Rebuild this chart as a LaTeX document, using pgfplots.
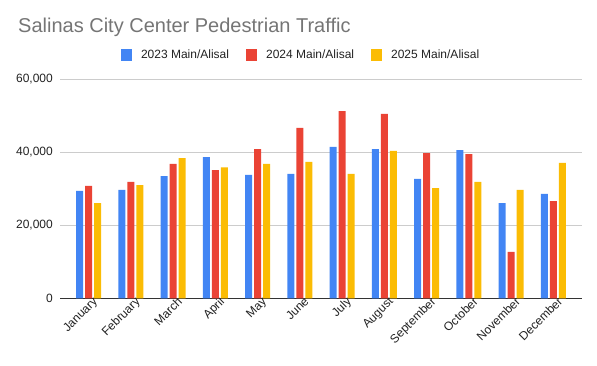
\documentclass[border=0pt]{standalone}
\usepackage{fontspec}
\setmainfont{Liberation Sans}
\usepackage{pgfplots}
\pgfplotsset{compat=1.18}
\definecolor{cblue}{HTML}{4285F4}
\definecolor{cred}{HTML}{EA4335}
\definecolor{cyel}{HTML}{FBBC04}
\definecolor{ctitle}{HTML}{757575}
\definecolor{ctext}{HTML}{222222}
\definecolor{cgrid}{HTML}{CCCCCC}
\definecolor{caxis}{HTML}{333333}
\begin{document}
\begin{tikzpicture}
\path[use as bounding box] (0pt,0pt) rectangle (597pt,365pt);
\node[anchor=base west, inner sep=0pt, text=ctitle, font=\fontsize{20}{24}\selectfont] at (18pt,332pt) {Salinas City Center Pedestrian Traffic};
\begin{axis}[
  at={(60pt,66.7pt)}, anchor=south west,
  scale only axis, width=522pt, height=219pt,
  ybar=2pt, bar width=7pt,
  xmin=-0.676, xmax=11.676,
  ymin=0, ymax=60000,
  ytick={0,20000,40000,60000},
  scaled y ticks=false,
  /pgf/number format/assume math mode=true,
  yticklabel={\pgfmathprintnumber[fixed,1000 sep={,}]{\tick}},
  xtick={0,1,2,3,4,5,6,7,8,9,10,11},
  xticklabels={January,February,March,April,May,June,July,August,September,October,November,December},
  xticklabel style={rotate=45, anchor=north east, inner sep=0pt, yshift=-1pt, xshift=4pt, font=\fontsize{12}{14}\selectfont, text=ctext},
  yticklabel style={inner sep=0pt, xshift=-7pt, font=\fontsize{12}{14}\selectfont, text=ctext},
  major tick length=0pt,
  ymajorgrids, grid style={cgrid, line width=0.9pt},
  axis x line*=bottom, axis y line*=left,
  y axis line style={draw=none},
  x axis line style={caxis, line width=1.3pt, -},
  legend columns=3,
  legend style={at={(0.46,1.111)}, anchor=center, draw=none, fill=none,
    font=\fontsize{12}{14}\selectfont, text=ctext,
    nodes={inner sep=0pt},
    /tikz/every odd column/.append style={column sep=9pt},
    /tikz/every even column/.append style={column sep=17pt}},
  legend image code/.code={\fill[#1] (0pt,-6pt) rectangle (11pt,6pt);},
]
\addplot[fill=cblue, draw=none] coordinates {(0,29400) (1,29700) (2,33500) (3,38700) (4,33800) (5,34100) (6,41500) (7,40900) (8,32700) (9,40600) (10,26100) (11,28600)};
\addplot[fill=cred, draw=none] coordinates {(0,30800) (1,31900) (2,36800) (3,35100) (4,40900) (5,46700) (6,51300) (7,50500) (8,39800) (9,39500) (10,12700) (11,26600)};
\addplot[fill=cyel, draw=none] coordinates {(0,26100) (1,31000) (2,38400) (3,35900) (4,36800) (5,37400) (6,34100) (7,40400) (8,30200) (9,31900) (10,29700) (11,37100)};
\legend{2023 Main/Alisal, 2024 Main/Alisal, 2025 Main/Alisal}
\end{axis}
\end{tikzpicture}
\end{document}
